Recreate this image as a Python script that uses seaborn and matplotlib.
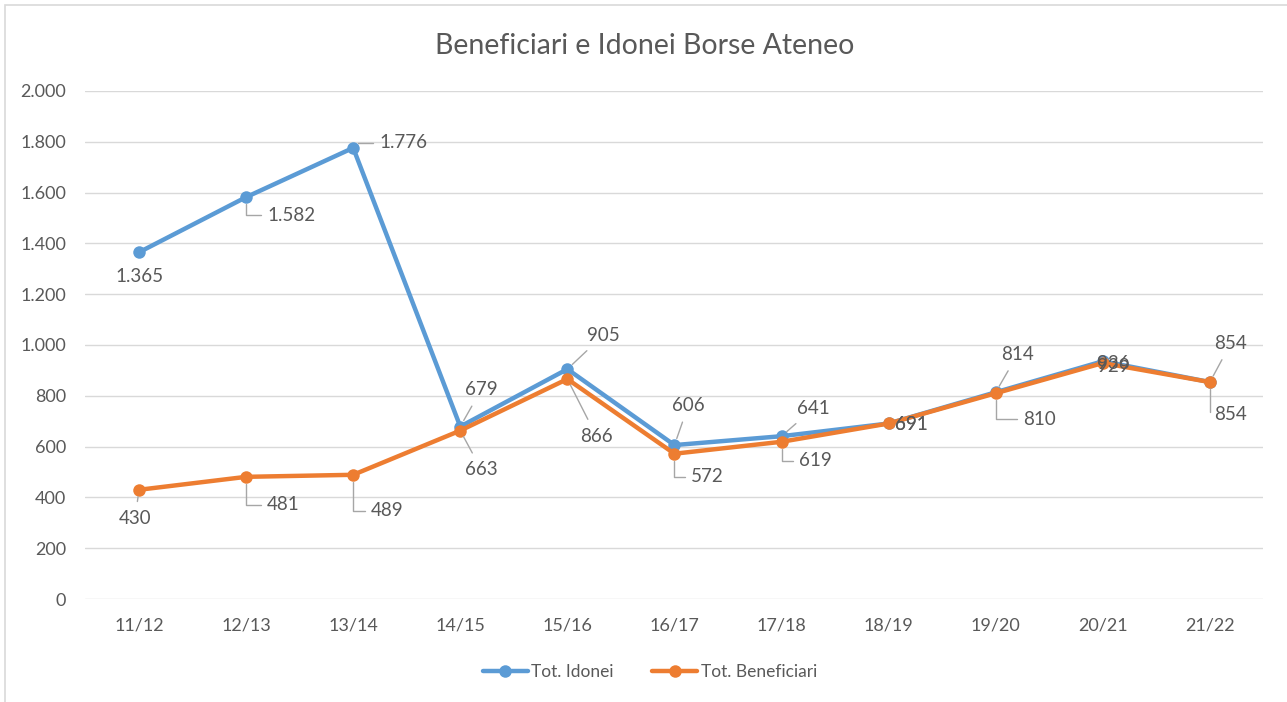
import numpy as np
import pandas as pd
import matplotlib
matplotlib.use("Agg")
import matplotlib.pyplot as plt
from matplotlib.patches import Rectangle
from matplotlib.lines import Line2D
import seaborn as sns

# ── dati ────────────────────────────────────────────────────────────────────
ANNI = ["11/12", "12/13", "13/14", "14/15", "15/16", "16/17",
        "17/18", "18/19", "19/20", "20/21", "21/22"]
IDONEI = [1365, 1582, 1776, 679, 905, 606, 641, 691, 814, 936, 854]
BENEFICIARI = [430, 481, 489, 663, 866, 572, 619, 691, 810, 929, 854]
SERIE = ["Tot. Idonei", "Tot. Beneficiari"]
TITOLO = "Beneficiari e Idonei Borse Ateneo"
Y_TICKS = [0, 200, 400, 600, 800, 1000, 1200, 1400, 1600, 1800, 2000]

# ── stile ───────────────────────────────────────────────────────────────────
BLU = "#5B9BD5"
ARANCIO = "#ED7D31"
TESTO = "#595959"
GRIGLIA = "#D9D9D9"
LEADER = "#A6A6A6"

sns.set_theme(style="white")
plt.rcParams["font.family"] = ["Lato", "DejaVu Sans"]

# offset etichette (pixel) e stile linea guida: None = nessuna, "s" = dritta,
# "a" = a gomito
OFF_IDONEI = [(0, -24, None), (45, -18, "a"), (50, 5, "a"), (21, 37, "s"),
              (36, 34, "s"), (14, 40, "s"), (32, 28, "s"), (23, -1, None),
              (22, 38, "s"), (10, -2, None), (21, 39, "s")]
OFF_BENEF = [(-4, -29, "s"), (37, -28, "a"), (34, -36, "a"), (21, -39, "s"),
             (29, -57, "s"), (33, -23, "a"), (34, -19, "a"), (23, -1, None),
             (44, -26, "a"), (10, -3, None), (21, -32, "a")]


def fmt_it(v):
    return f"{v:,.0f}".replace(",", ".")


def etichette(ax, vals, offsets):
    for i, (v, (dx, dy, st)) in enumerate(zip(vals, offsets)):
        kw = {}
        if st == "s":
            kw["arrowprops"] = dict(arrowstyle="-", color=LEADER, lw=1,
                                    shrinkA=4, shrinkB=5)
        elif st == "a":
            kw["arrowprops"] = dict(arrowstyle="-", color=LEADER, lw=1,
                                    shrinkA=2, shrinkB=5,
                                    connectionstyle="angle,angleA=0,angleB=90,rad=0")
        ax.annotate(fmt_it(v), xy=(i, v), xytext=(dx, dy),
                    textcoords="offset pixels", ha="center", va="center",
                    fontsize=13.5, color=TESTO, zorder=5, **kw)


def main():
    df = pd.DataFrame({
        "anno": ANNI * 2,
        "valore": IDONEI + BENEFICIARI,
        "serie": [SERIE[0]] * len(ANNI) + [SERIE[1]] * len(ANNI),
    })

    fig = plt.figure(figsize=(12.87, 7.02), dpi=100, facecolor="white")
    ax = fig.add_axes([0.0664, 0.1467, 0.9153, 0.7237])

    sns.lineplot(data=df, x="anno", y="valore", hue="serie",
                 palette=[BLU, ARANCIO], marker="o", markersize=9,
                 markeredgewidth=0, linewidth=3.2, sort=False,
                 legend=False, ax=ax, zorder=3)

    ax.set_xlim(-0.5, len(ANNI) - 0.5)
    ax.set_ylim(0, 2000)
    ax.set_yticks(Y_TICKS)
    ax.set_yticklabels([fmt_it(t) for t in Y_TICKS])
    ax.yaxis.grid(True, color=GRIGLIA, lw=1)
    ax.set_axisbelow(True)
    for s in ax.spines.values():
        s.set_visible(False)
    ax.tick_params(axis="both", length=0, labelsize=13, colors=TESTO)
    ax.tick_params(axis="x", pad=13)
    ax.tick_params(axis="y", pad=14)
    ax.set_xlabel("")
    ax.set_ylabel("")

    etichette(ax, IDONEI, OFF_IDONEI)
    etichette(ax, BENEFICIARI, OFF_BENEF)

    fig.text(0.501, 0.935, TITOLO, ha="center", va="center",
             fontsize=20.5, color=TESTO)

    handles = [Line2D([0], [0], color=c, lw=3.2, marker="o", markersize=9,
                      markeredgewidth=0) for c in (BLU, ARANCIO)]
    fig.legend(handles, SERIE, loc="center", bbox_to_anchor=(0.505, 0.043),
               ncol=2, frameon=False, fontsize=12.5, labelcolor=TESTO,
               handlelength=2.6, handletextpad=0.2, columnspacing=2.2)

    fig.patches.append(Rectangle((5 / 1287, -0.05), 1.2, 1.05 - 5 / 702,
                                 transform=fig.transFigure, fill=False,
                                 edgecolor=GRIGLIA, lw=1.2))

    fig.savefig("out.png", dpi=100)
    plt.close(fig)


if __name__ == "__main__":
    main()
